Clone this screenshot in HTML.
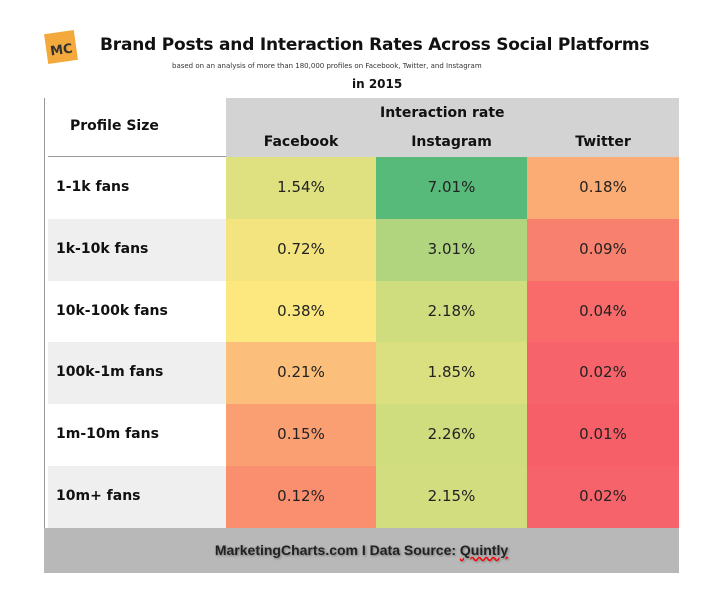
<!DOCTYPE html>
<html><head><meta charset="utf-8"><style>
body{margin:0;width:712px;height:598px;background:#fff;font-family:"DejaVu Sans","Liberation Sans",sans-serif;position:relative;overflow:hidden}
.a{position:absolute}
.t{font-weight:bold;color:#111}
</style></head><body>
<div class="a" style="left:46px;top:32px;width:30px;height:30px;background:#f4a93c;transform:rotate(-8deg);font-weight:bold;font-size:13px;color:#333;line-height:38px;text-align:center">MC</div>
<div class="a t" style="left:100px;top:35px;font-size:17px;letter-spacing:-0.2px">Brand Posts and Interaction Rates Across Social Platforms</div>
<div class="a" style="left:172px;top:62px;font-size:7px;color:#333">based on an analysis of more than 180,000 profiles on Facebook, Twitter, and Instagram</div>
<div class="a t" style="left:352px;top:77px;font-size:12px">in 2015</div>
<div class="a" style="left:44px;top:98px;width:1px;height:430px;background:#999"></div>
<div class="a" style="left:226px;top:98px;width:453px;height:59px;background:#d3d3d3"></div>
<div class="a" style="left:48px;top:156px;width:178px;height:1px;background:#999"></div>
<div class="a t" style="left:70px;top:118px;font-size:14px">Profile Size</div>
<div class="a t" style="left:380px;top:105px;font-size:14px">Interaction rate</div>
<div id="tbl"></div>
<div class="a" style="left:44px;top:528px;width:635px;height:45px;background:#b8b8b8"></div>
<div class="a" style="left:44px;top:542px;width:635px;text-align:center;font-family:'Liberation Sans',sans-serif;font-weight:bold;font-size:14px;color:#222;text-shadow:1px 1px 2px #777">MarketingCharts.com I Data Source: <span style="text-decoration:underline wavy red">Quintly</span></div>
<script>
const platforms=["Facebook","Instagram","Twitter"];
const sizes=["1-1k fans","1k-10k fans","10k-100k fans","100k-1m fans","1m-10m fans","10m+ fans"];
const facebook=[1.54,0.72,0.38,0.21,0.15,0.12];
const instagram=[7.01,3.01,2.18,1.85,2.26,2.15];
const twitter=[0.18,0.09,0.04,0.02,0.01,0.02];
const fbColors=["#dfe07f","#f3e47f","#fde880","#fcbf7b","#fa9f72","#f98f6e"];
const igColors=["#57b97a","#b1d57f","#d0dd7f","#dadf80","#cfdd7e","#d1dd7f"];
const twColors=["#fbac75","#f8806e","#f86b6a","#f7636a","#f65e68","#f7636a"];
const series=[facebook,instagram,twitter];
const colors=[fbColors,igColors,twColors];
const colX=[226,376,527],colW=[150,151,152];
const top0=157,rowH=61.8;
const tbl=document.getElementById('tbl');
function mk(style,txt){const d=document.createElement('div');d.className='a';d.style.cssText=style;if(txt!=null)d.textContent=txt;tbl.appendChild(d);return d;}
platforms.forEach((p,j)=>{
 const h=mk(`left:${colX[j]}px;top:134px;width:${colW[j]}px;text-align:center;font-weight:bold;font-size:14px;color:#111`,p);
 
 
});
sizes.forEach((s,i)=>{
 const y=top0+i*rowH;
 const bg=mk(`left:48px;top:${y}px;width:178px;height:${rowH+0.5}px;background:${i%2?'#efefef':'#fff'}`);
 
 
 const l=mk(`left:56px;top:${y}px;height:${rowH}px;line-height:${rowH}px;font-weight:bold;font-size:14px;color:#111`,s);
 
 
 series.forEach((arr,j)=>{
  const c=mk(`left:${colX[j]}px;top:${y}px;width:${colW[j]}px;height:${rowH+0.5}px;background:${colors[j][i]};text-align:center;line-height:${rowH}px;font-size:15px;color:#222`,arr[i].toFixed(2)+'%');
  
  
 });
});
</script>
</body></html>
